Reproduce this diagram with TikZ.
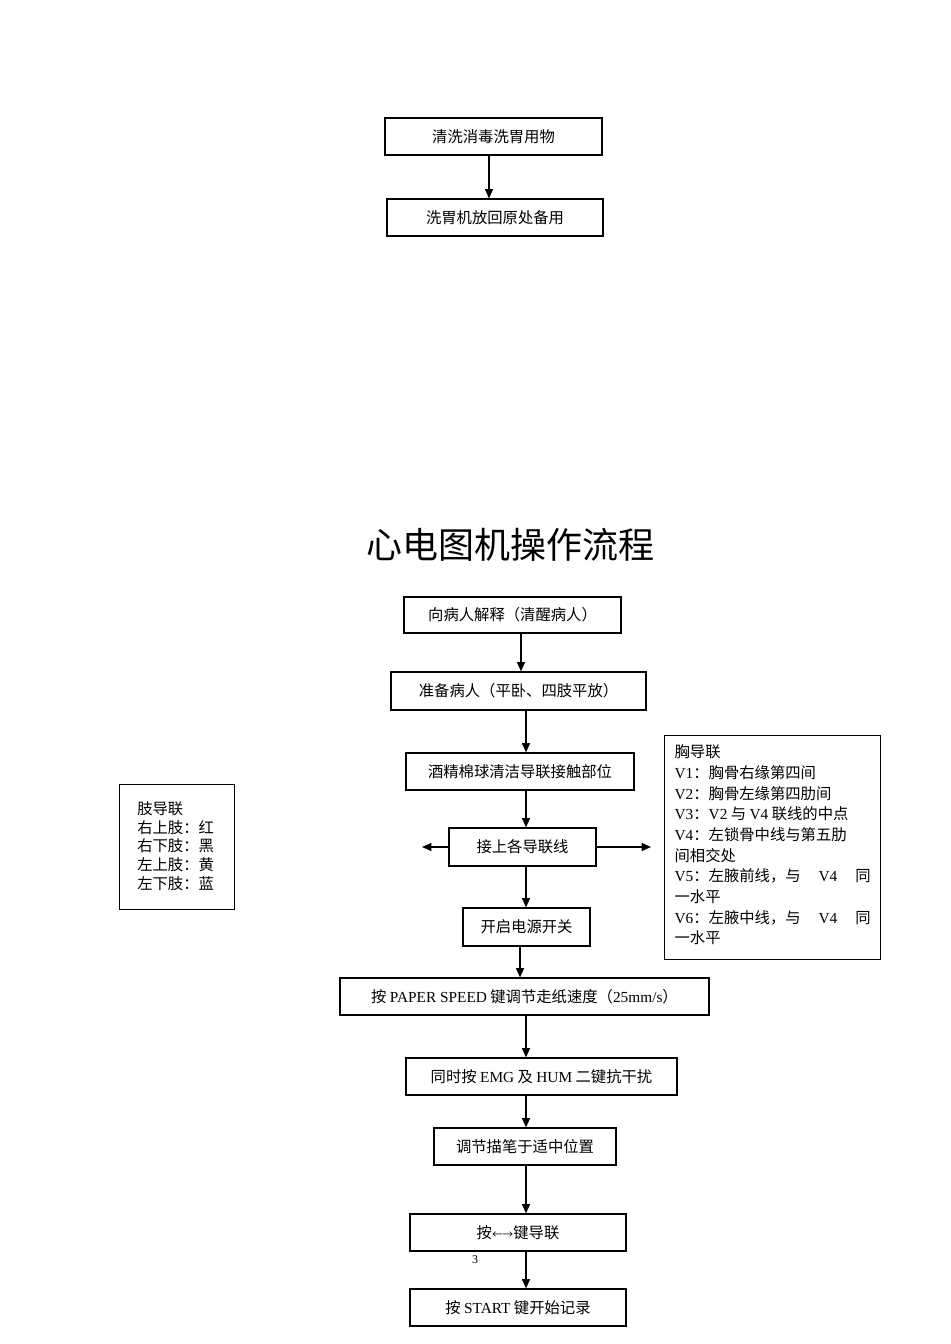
\documentclass[tikz,border=0pt]{standalone}
\usepackage{fontspec}
\setmainfont{Liberation Serif}
\newfontfamily\cjk{Noto Sans CJK SC}
\usetikzlibrary{arrows.meta}
\begin{document}
\begin{tikzpicture}[x=0.75pt,y=-0.75pt,
  box/.style={draw,line width=0.9pt,inner sep=0pt,font=\cjk\fontsize{11.5}{14}\selectfont},
  arr/.style={-{Triangle[length=7pt,width=6pt]},line width=1pt}]
\useasboundingbox (0,0) rectangle (950,1344);
\newcommand{\bx}[6]{\node[box,minimum width=#4*0.75pt,minimum height=#5*0.75pt] (#1) at (#2,#3) {#6};}
\bx{a}{493.5}{136.5}{217}{37}{清洗消毒洗胃用物}
\bx{b}{495}{217.5}{216}{37}{洗胃机放回原处备用}
\draw[arr] (a.south -| 489,0) -- (b.north -| 489,0);
\node[font=\cjk\fontsize{27}{30}\selectfont] (t) at (510,545) {心电图机操作流程};
\bx{c}{512.5}{615}{217}{36}{向病人解释（清醒病人）}
\bx{d}{518.5}{691}{255}{38}{准备病人（平卧、四肢平放）}
\bx{e}{520}{771.5}{228}{37}{酒精棉球清洁导联接触部位}
\bx{f}{522.5}{847}{147}{38}{接上各导联线}
\bx{g}{526.5}{927}{127}{38}{开启电源开关}
\bx{h}{524.5}{996.5}{369}{37}{按 {\fontsize{11.5}{14}\rmfamily PAPER SPEED} 键调节走纸速度（{\rmfamily 25mm/s}）}
\bx{i}{541.5}{1076.5}{271}{37}{同时按 {\rmfamily EMG} 及 {\rmfamily HUM} 二键抗干扰}
\bx{j}{525}{1146.5}{182}{37}{调节描笔于适中位置}
\bx{k}{518}{1232.5}{216}{37}{按{\fontsize{8}{8}\selectfont ←→}键导联}
\bx{l}{518}{1307.5}{216}{37}{按 {\rmfamily START} 键开始记录}
\draw[arr] (c.south -| 521,0) -- (d.north -| 521,0);
\draw[arr] (d.south -| 526,0) -- (e.north -| 526,0);
\draw[arr] (e.south -| 526,0) -- (f.north -| 526,0);
\draw[arr] (f.south -| 526,0) -- (g.north -| 526,0);
\draw[arr] (g.south -| 520,0) -- (h.north -| 520,0);
\draw[arr] (h.south -| 526,0) -- (i.north -| 526,0);
\draw[arr] (i.south -| 526,0) -- (j.north -| 526,0);
\draw[arr] (j.south -| 526,0) -- (k.north -| 526,0);
\draw[arr] (k.south -| 526,0) -- (l.north -| 526,0);
\coordinate (fl) at (422,847); \coordinate (fr) at (651,847);
\draw[arr] (f.west) -- (fl);
\draw[arr] (f.east) -- (fr);
\node[box,anchor=north west,minimum width=115*0.75pt,minimum height=125*0.75pt,align=left,text width=100*0.75pt,inner sep=0pt] (lb) at (119,784) {\hspace*{0pt}\\[-6pt]\ \ 肢导联\\\ \ 右上肢：红\\\ \ 右下肢：黑\\\ \ 左上肢：黄\\\ \ 左下肢：蓝};
\node[box,anchor=north west,minimum width=216*0.75pt,minimum height=224*0.75pt,align=left,inner sep=0pt,font=\cjk\fontsize{11.5}{15.5}\selectfont] (rb) at (664,735) {\begin{minipage}[t]{196\dimexpr0.75pt}\vspace*{6pt}
胸导联\\
{\rmfamily V1}：胸骨右缘第四间\\
{\rmfamily V2}：胸骨左缘第四肋间\\
{\rmfamily V3}：{\rmfamily V2} 与 {\rmfamily V4} 联线的中点\\
{\rmfamily V4}：左锁骨中线与第五肋\\
间相交处\\
{\rmfamily V5}：左腋前线，与 \hfill{\rmfamily V4} \hfill 同\\
一水平\\
{\rmfamily V6}：左腋中线，与 \hfill{\rmfamily V4} \hfill 同\\
一水平\vspace*{10pt}\end{minipage}};
\node[font=\rmfamily\fontsize{9}{9}\selectfont] (pg) at (475,1260) {3};
\end{tikzpicture}
\end{document}
